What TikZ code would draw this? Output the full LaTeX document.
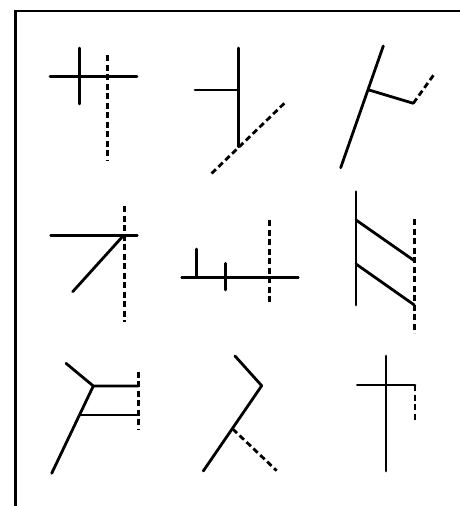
\documentclass[tikz,border=0pt]{standalone}
\begin{document}
\begin{tikzpicture}[x=1pt,y=-1pt,
  solidln/.style={line width=2.8pt,line cap=round,line join=round},
  dashln/.style={line width=2.8pt,dash pattern=on 6pt off 3.5pt},
  framel/.style={line width=2.2pt}]
\useasboundingbox (0,0) rectangle (460,506);
% frame (top and left only)
\coordinate (ftr) at (460,11);
\coordinate (ftl) at (15.5,11);
\coordinate (fbl) at (15.5,506);
\draw[framel] (ftr) -- (ftl) -- (fbl);
% cell 1
\draw[solidln] (79.3,48) -- (79.3,104);
\draw[solidln] (50,76.3) -- (137,76.3);
\draw[dashln] (107.7,55) -- (107.7,161);
% cell 2
\draw[solidln] (195,90) -- (238.7,90);
\draw[solidln] (238.7,48) -- (238.7,146.7);
\draw[dashln] (284.3,103.3) -- (211,174);
% cell 3
\draw[solidln] (383.3,46) -- (340.7,167.7);
\draw[solidln] (369,90) -- (413.3,103.3);
\draw[dashln] (413.3,103.3) -- (434.3,74);
% cell 4
\draw[solidln] (50.7,235.7) -- (137.3,235.7);
\draw[solidln] (123.3,235.7) -- (72.7,291.7);
\draw[dashln] (124.3,206) -- (124.3,322);
% cell 5
\draw[solidln] (181.7,277.3) -- (298.3,277.3);
\draw[solidln] (196.3,249) -- (196.3,277.3);
\draw[solidln] (225.3,263.3) -- (225.3,290);
\draw[dashln] (269.3,220) -- (269.3,305);
% cell 6
\draw[solidln] (356,191.7) -- (356,305);
\draw[solidln] (356,220) -- (414.3,260.7);
\draw[solidln] (356,264) -- (414.3,305);
\draw[dashln] (414.3,219.3) -- (414.3,333.3);
% cell 7
\draw[solidln] (51.7,473.3) -- (93.3,386);
\draw[solidln] (66,363.3) -- (93.3,386) -- (138.3,386);
\draw[solidln] (80.7,415) -- (138.3,415);
\draw[dashln] (138.3,371.7) -- (138.3,429);
% cell 8
\draw[solidln] (235,356) -- (261.7,385.7) -- (203.3,471);
\draw[dashln] (232.7,429) -- (276.7,470.7);
% cell 9
\draw[solidln] (386,356) -- (386,471);
\draw[solidln] (357.3,385) -- (415,385);
\draw[dashln] (415,385) -- (415,421.7);
\end{tikzpicture}
\end{document}
